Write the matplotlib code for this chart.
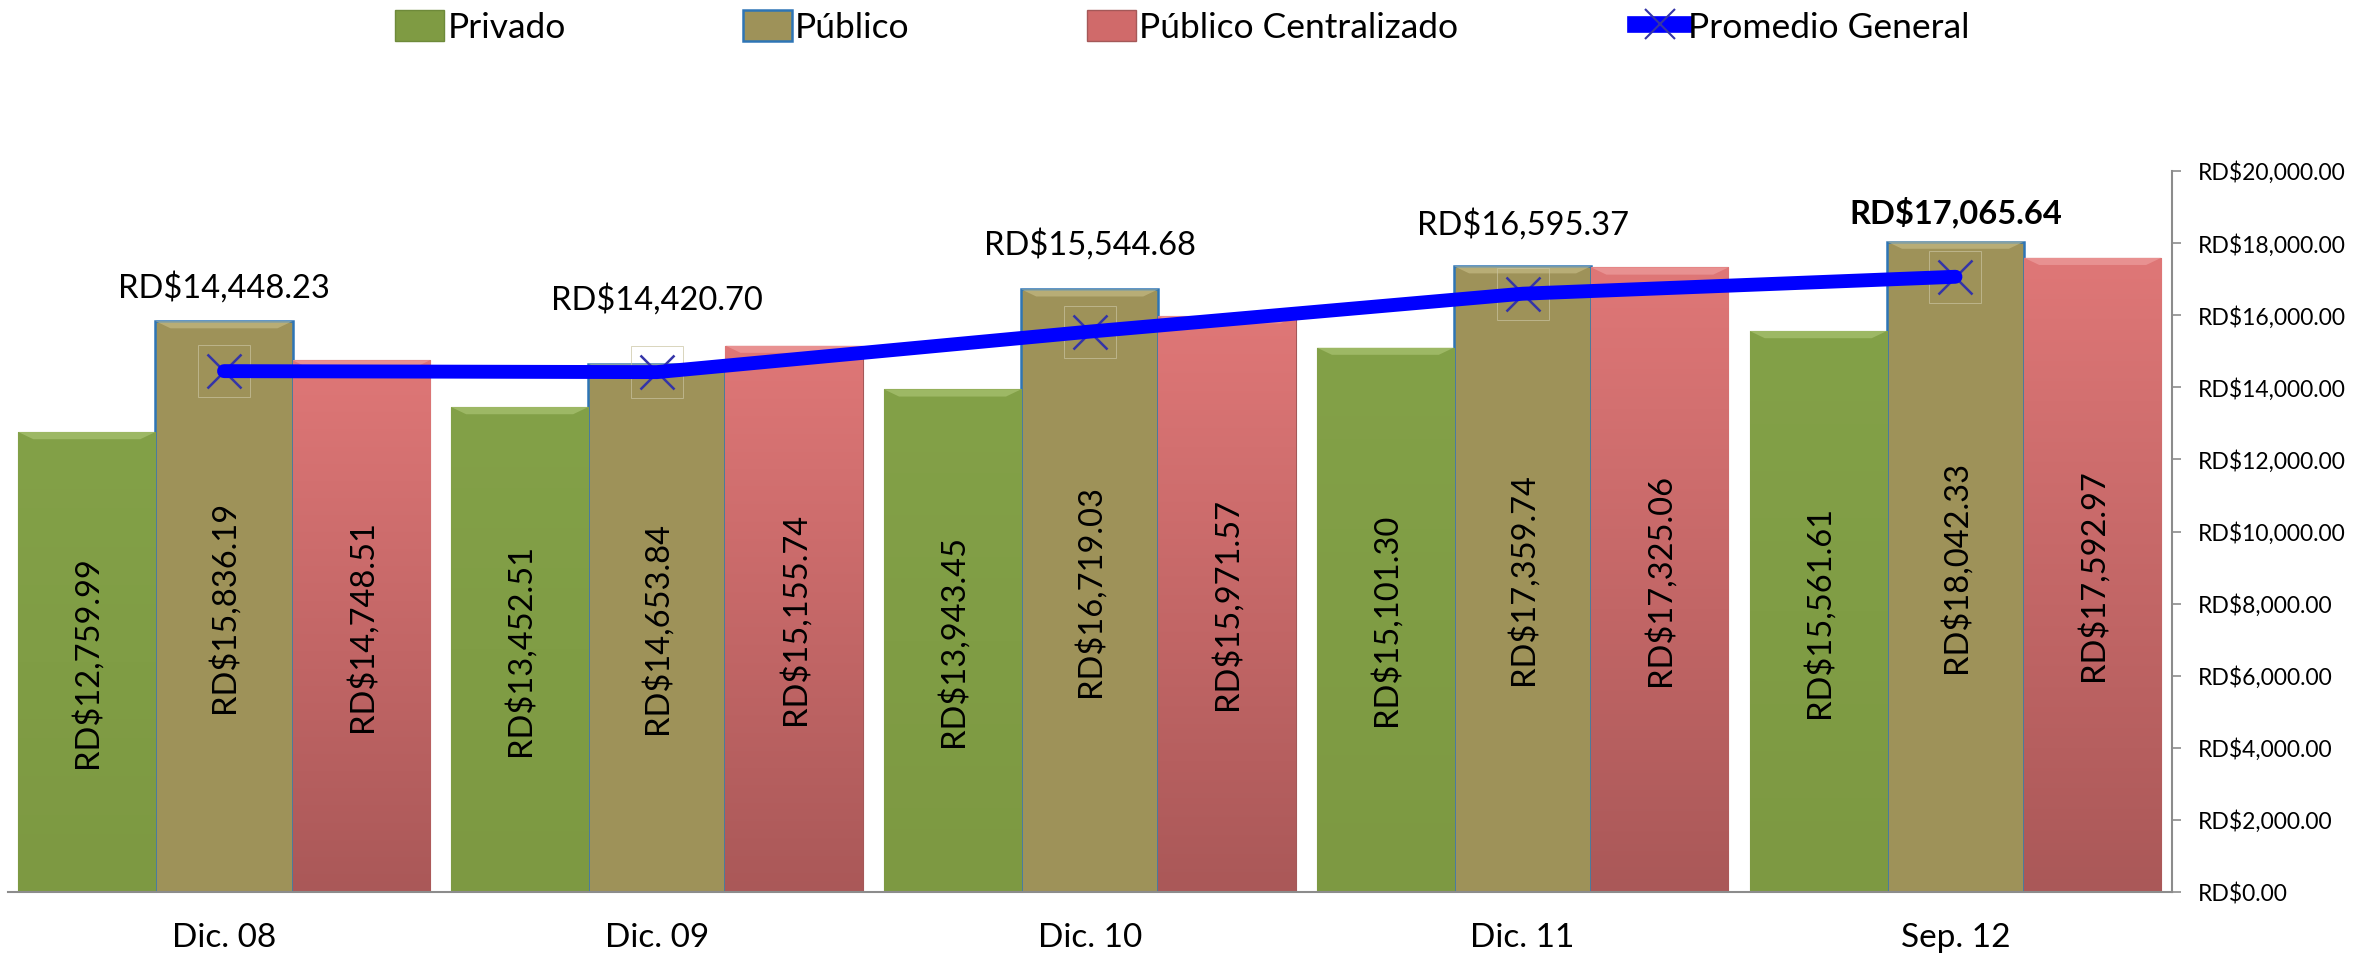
import numpy as np
import matplotlib
matplotlib.use("Agg")
import matplotlib.pyplot as plt
from matplotlib.patches import Patch, Polygon
from matplotlib.lines import Line2D
from matplotlib.colors import LinearSegmentedColormap

plt.rcParams['font.family'] = ['Lato', 'DejaVu Sans']

# datos
periodos = ["Dic. 08", "Dic. 09", "Dic. 10", "Dic. 11", "Sep. 12"]
privado = [12759.99, 13452.51, 13943.45, 15101.30, 15561.61]
publico = [15836.19, 14653.84, 16719.03, 17359.74, 18042.33]
publico_centralizado = [14748.51, 15155.74, 15971.57, 17325.06, 17592.97]
promedio_general = [14448.23, 14420.70, 15544.68, 16595.37, 17065.64]

# desplazamiento de las etiquetas del promedio (en puntos)
offsets_prom = [60, 52, 63, 50, 46]


def fmt(v):
    return f"RD${v:,.2f}"


def gradient_fill(ax, bars, top, bottom):
    cmap = LinearSegmentedColormap.from_list("g", [bottom, top])
    grad = np.linspace(0, 1, 256).reshape(-1, 1)
    for b in bars:
        x0, y0 = b.get_x(), b.get_y()
        im = ax.imshow(grad, cmap=cmap, aspect='auto', origin='lower',
                       extent=(x0, x0 + b.get_width(), y0, y0 + b.get_height()),
                       zorder=b.get_zorder() + 0.1)
        im.set_clip_path(b)


def bevel(ax, bars, color, depth=200, inset=0.035):
    # franja clara en la parte superior de cada barra
    for b in bars:
        x0, w, h = b.get_x(), b.get_width(), b.get_height()
        pts = [(x0, h), (x0 + w, h), (x0 + w - inset, h - depth), (x0 + inset, h - depth)]
        ax.add_patch(Polygon(pts, closed=True, facecolor=color, edgecolor='none',
                             alpha=0.55, zorder=b.get_zorder() + 0.2))


fig = plt.figure(figsize=(23.69, 9.6), dpi=100)
ax = fig.add_axes([0.0032, 0.0708, 0.9136, 0.7511])

x = np.arange(len(periodos))
w = 0.317

b1 = ax.bar(x - w, privado, w, color="#7F9B43", edgecolor="#6E8A3A", linewidth=0.8, zorder=2)
b2 = ax.bar(x, publico, w, color="#9E9259", edgecolor="#2E75B6", linewidth=1.8, zorder=2)
b3 = ax.bar(x + w, publico_centralizado, w, color="#D06A6A", edgecolor="#A45858", linewidth=0.8, zorder=2)

gradient_fill(ax, b1, "#83A148", "#7D9942")
gradient_fill(ax, b3, "#DF7777", "#AA5858")
bevel(ax, b1, "#B5CC7E")
bevel(ax, b2, "#CFC48F")
bevel(ax, b3, "#F2A8A8")

ax.plot(x, promedio_general, linestyle='none', marker='s', markersize=38,
        markerfacecolor='none', markeredgecolor="#C9C3A0", markeredgewidth=0.7,
        alpha=0.7, zorder=4)
ax.plot(x, promedio_general, linestyle='none', marker='x', markersize=24,
        markeredgewidth=1.8, color="#3434A8", zorder=4)
ax.plot(x, promedio_general, color="#0000FF", linewidth=10, solid_capstyle='round',
        zorder=5)

lbl_size = 23.5
for serie, bars in [(privado, b1), (publico, b2), (publico_centralizado, b3)]:
    for v, b in zip(serie, bars):
        ax.text(b.get_x() + b.get_width() / 2, v / 2, fmt(v), rotation=90,
                ha='center', va='center', fontsize=lbl_size, color="black", zorder=6)

for i, v in enumerate(promedio_general):
    last = i == len(promedio_general) - 1
    ax.annotate(fmt(v), (x[i], v), xytext=(0, offsets_prom[i]), textcoords='offset points',
                ha='center', va='center', fontsize=lbl_size,
                fontweight='bold' if last else 'normal', zorder=6)

ax.set_xlim(-0.5, len(periodos) - 0.5)
ax.set_ylim(0, 20000)
ax.set_yticks(np.arange(0, 20001, 2000))
ax.yaxis.tick_right()
ax.yaxis.set_major_formatter(plt.FuncFormatter(lambda v, p: fmt(v)))
ax.tick_params(axis='y', labelsize=16.5, length=6.5, width=1.2, color="#8C8C8C", pad=12)
ax.set_xticks(x)
ax.set_xticklabels(periodos, fontsize=24)
ax.tick_params(axis='x', length=0, pad=22)

for s in ['top', 'left']:
    ax.spines[s].set_visible(False)
for s in ['right', 'bottom']:
    ax.spines[s].set_color("#8C8C8C")
    ax.spines[s].set_linewidth(1.5)

handles = [
    Patch(facecolor="#7F9B43", edgecolor="#6E8A3A"),
    Patch(facecolor="#9E9259", edgecolor="#2E75B6", linewidth=1.8),
    Patch(facecolor="#D06A6A", edgecolor="#A45858"),
    Line2D([0], [0], color="#0000FF", linewidth=12, marker='x', markersize=22,
           markeredgecolor="#3434A8", markeredgewidth=1.5),
]
labels = ["Privado", "Público", "Público Centralizado", "Promedio General"]
fig.legend(handles, labels, loc='center', bbox_to_anchor=(0.499, 0.972), ncol=4,
           frameon=False, fontsize=25.5, handlelength=1.4, handleheight=0.95,
           handletextpad=0.08, columnspacing=5.0)

fig.savefig("out.png", dpi=100)
